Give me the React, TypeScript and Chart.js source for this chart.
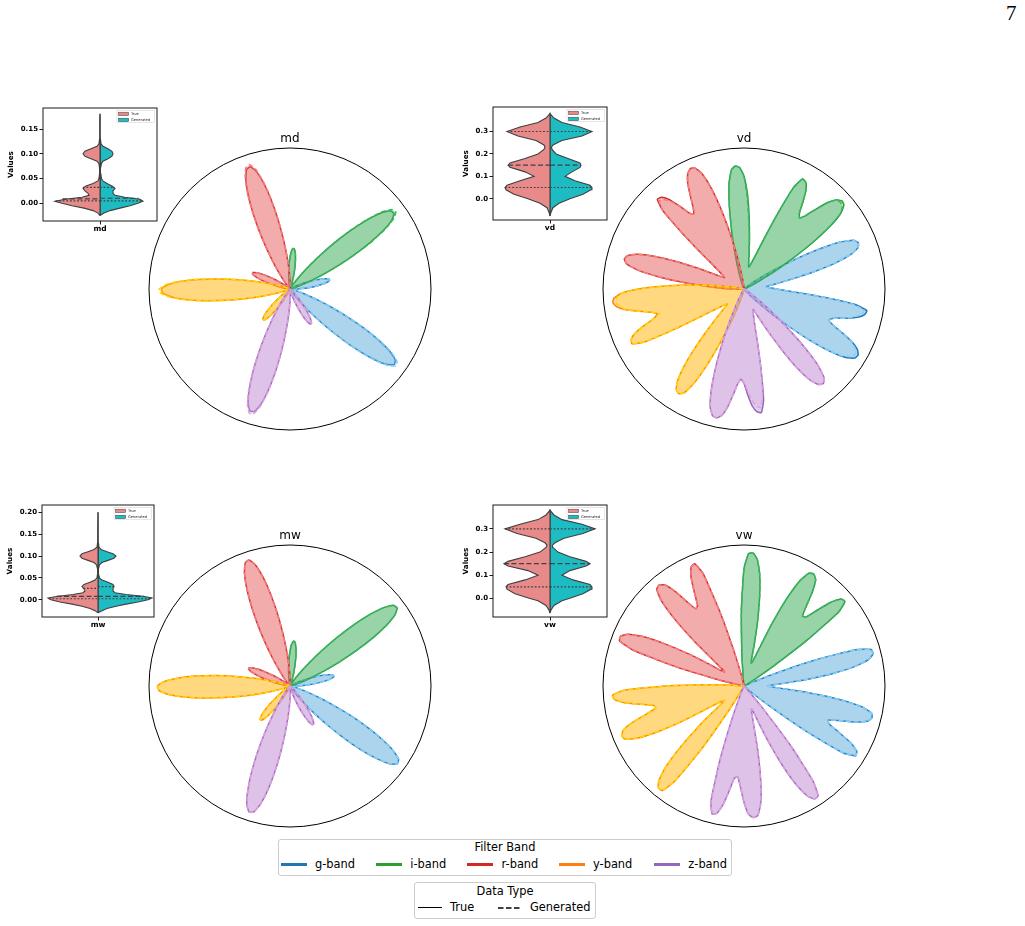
import React, { useEffect, useRef } from "react";
import { Chart, registerables } from "chart.js";

Chart.register(...registerables);

const SANS = "'DejaVu Sans', 'Noto Sans', sans-serif";
Chart.defaults.font.family = SANS;

// ---------------- Bands ----------------
const bandNames = ["g-band", "i-band", "r-band", "y-band", "z-band"];
const bandColors = ["#1f77b4", "#2ca02c", "#d62728", "#ff7f0e", "#9467bd"];
const generatedColors = ["#87cefa", "#3cb371", "#f08080", "#ffd700", "#dda0dd"];
const bandRotation = [0, 72, 144, 216, 288];

// sample angles (deg, counter-clockwise from east) of each band profile, before band rotation
const profileAngles = [-58, -56, -54, -52, -50, -48, -46, -44, -42, -40, -38, -36, -34, -32, -30, -28, -26, -24, -22, -20, -18, -16, -14, -12, -10, -8, -6, -4, -2, 0, 2, 4, 6, 8, 10, 12, 14, 16, 18, 20, 22, 24, 26, 28, 30, 32, 34, 36, 38, 40];

// ---------------- md / mw (every band shows the same petal pair) ----------------
const mdTrue = [0.017, 0.033, 0.061, 0.106, 0.173, 0.265, 0.38, 0.513, 0.651, 0.775, 0.868, 0.912, 0.901, 0.836, 0.728, 0.596, 0.459, 0.331, 0.225, 0.144, 0.086, 0.048, 0.026, 0.013, 0.006, 0.004, 0.008, 0.015, 0.029, 0.052, 0.084, 0.127, 0.176, 0.225, 0.264, 0.287, 0.287, 0.264, 0.225, 0.176, 0.127, 0.084, 0.052, 0.029, 0.015, 0.007, 0.003, 0, 0, 0];
const mdGen = [0.017, 0.034, 0.062, 0.108, 0.176, 0.27, 0.387, 0.522, 0.662, 0.788, 0.883, 0.928, 0.916, 0.85, 0.74, 0.606, 0.467, 0.337, 0.229, 0.146, 0.087, 0.049, 0.026, 0.013, 0.006, 0.004, 0.008, 0.015, 0.029, 0.052, 0.084, 0.127, 0.176, 0.225, 0.264, 0.287, 0.287, 0.264, 0.225, 0.176, 0.127, 0.084, 0.052, 0.029, 0.015, 0.007, 0.003, 0, 0, 0];
const mwTrue = [0.018, 0.034, 0.063, 0.109, 0.178, 0.273, 0.392, 0.529, 0.671, 0.799, 0.895, 0.94, 0.929, 0.862, 0.751, 0.614, 0.473, 0.341, 0.232, 0.148, 0.089, 0.049, 0.027, 0.013, 0.006, 0.004, 0.008, 0.017, 0.032, 0.057, 0.093, 0.14, 0.194, 0.248, 0.291, 0.317, 0.317, 0.291, 0.248, 0.194, 0.14, 0.093, 0.057, 0.032, 0.017, 0.008, 0.003, 0, 0, 0];
const mwGen = [0.018, 0.034, 0.063, 0.109, 0.178, 0.273, 0.392, 0.529, 0.671, 0.799, 0.895, 0.94, 0.929, 0.862, 0.751, 0.614, 0.473, 0.341, 0.232, 0.148, 0.089, 0.049, 0.027, 0.013, 0.006, 0.004, 0.008, 0.017, 0.032, 0.057, 0.093, 0.14, 0.194, 0.248, 0.291, 0.317, 0.317, 0.291, 0.248, 0.194, 0.14, 0.093, 0.057, 0.032, 0.017, 0.008, 0.003, 0, 0, 0];

// ---------------- vd (three rounded lobes, same for every band; generated differs per band) ----------------
const vdTrue = [0.001, 0.002, 0.004, 0.009, 0.018, 0.03, 0.07, 0.13, 0.25, 0.4, 0.58, 0.75, 0.87, 0.925, 0.935, 0.91, 0.85, 0.76, 0.68, 0.64, 0.67, 0.75, 0.83, 0.875, 0.885, 0.8, 0.58, 0.4, 0.29, 0.23, 0.195, 0.17, 0.16, 0.19, 0.26, 0.37, 0.52, 0.68, 0.8, 0.86, 0.875, 0.85, 0.76, 0.6, 0.42, 0.27, 0.16, 0.085, 0.04, 0.018];
const vdGenG = [0.001, 0.002, 0.004, 0.009, 0.018, 0.03, 0.07, 0.13, 0.25, 0.4, 0.58, 0.75, 0.85, 0.905, 0.915, 0.89, 0.85, 0.76, 0.68, 0.64, 0.67, 0.75, 0.81, 0.855, 0.865, 0.78, 0.58, 0.4, 0.29, 0.23, 0.195, 0.17, 0.16, 0.19, 0.26, 0.37, 0.52, 0.68, 0.8, 0.86, 0.875, 0.85, 0.76, 0.6, 0.42, 0.27, 0.16, 0.085, 0.04, 0.018];
const vdGenI = [0.001, 0.002, 0.004, 0.009, 0.018, 0.03, 0.07, 0.13, 0.25, 0.4, 0.58, 0.75, 0.87, 0.91, 0.92, 0.91, 0.85, 0.76, 0.68, 0.64, 0.67, 0.75, 0.83, 0.875, 0.885, 0.8, 0.58, 0.4, 0.29, 0.23, 0.195, 0.17, 0.16, 0.19, 0.26, 0.37, 0.49, 0.65, 0.8, 0.86, 0.875, 0.85, 0.76, 0.6, 0.42, 0.27, 0.16, 0.085, 0.04, 0.018];
const vdGenR = [0.001, 0.002, 0.004, 0.009, 0.018, 0.03, 0.07, 0.13, 0.25, 0.4, 0.58, 0.75, 0.87, 0.925, 0.935, 0.91, 0.85, 0.76, 0.68, 0.64, 0.67, 0.75, 0.81, 0.855, 0.865, 0.8, 0.58, 0.4, 0.29, 0.23, 0.195, 0.17, 0.16, 0.19, 0.26, 0.37, 0.52, 0.68, 0.8, 0.86, 0.875, 0.85, 0.76, 0.6, 0.42, 0.27, 0.16, 0.085, 0.04, 0.018];
const vdGenY = [0.001, 0.002, 0.004, 0.009, 0.018, 0.03, 0.07, 0.13, 0.25, 0.4, 0.58, 0.75, 0.87, 0.905, 0.915, 0.89, 0.85, 0.76, 0.68, 0.625, 0.67, 0.75, 0.83, 0.875, 0.885, 0.8, 0.58, 0.4, 0.29, 0.23, 0.195, 0.17, 0.16, 0.19, 0.26, 0.37, 0.52, 0.68, 0.8, 0.86, 0.875, 0.85, 0.76, 0.6, 0.42, 0.27, 0.16, 0.085, 0.04, 0.018];
const vdGenZ = [0.001, 0.002, 0.004, 0.009, 0.018, 0.03, 0.07, 0.13, 0.25, 0.4, 0.58, 0.75, 0.87, 0.925, 0.935, 0.91, 0.85, 0.76, 0.68, 0.64, 0.67, 0.72, 0.79, 0.835, 0.85, 0.76, 0.58, 0.4, 0.29, 0.23, 0.195, 0.17, 0.16, 0.19, 0.26, 0.37, 0.52, 0.68, 0.8, 0.86, 0.875, 0.85, 0.76, 0.6, 0.42, 0.27, 0.16, 0.085, 0.04, 0.018];

// ---------------- vw (three rounded lobes, generated coincides with true) ----------------
const vwTrue = [0, 0, 0, 0, 0, 0, 0, 0.005, 0.02, 0.08, 0.25, 0.55, 0.85, 0.935, 0.923, 0.855, 0.747, 0.659, 0.645, 0.716, 0.825, 0.909, 0.935, 0.925, 0.847, 0.683, 0.469, 0.28, 0.2, 0.17, 0.193, 0.293, 0.455, 0.637, 0.8, 0.903, 0.944, 0.94, 0.833, 0.538, 0.207, 0.039, 0.003, 0, 0, 0, 0, 0, 0, 0];
const vwGen = [0, 0, 0, 0, 0, 0, 0, 0.005, 0.02, 0.08, 0.25, 0.55, 0.85, 0.935, 0.923, 0.855, 0.747, 0.659, 0.645, 0.716, 0.825, 0.909, 0.935, 0.925, 0.847, 0.683, 0.469, 0.28, 0.2, 0.17, 0.193, 0.293, 0.455, 0.637, 0.8, 0.903, 0.944, 0.94, 0.833, 0.538, 0.207, 0.039, 0.003, 0, 0, 0, 0, 0, 0, 0];

// ---------------- violins (value, half-width of True / Generated) ----------------
const mdViolinY = [-0.025, -0.02, -0.015, -0.01, -0.005, 0, 0.004, 0.008, 0.012, 0.016, 0.02, 0.025, 0.03, 0.035, 0.04, 0.045, 0.05, 0.06, 0.07, 0.08, 0.085, 0.09, 0.095, 0.1, 0.105, 0.11, 0.115, 0.12, 0.13, 0.15, 0.17, 0.181];
const mdViolinTrue = [0, 0.018, 0.061, 0.14, 0.246, 0.333, 0.395, 0.307, 0.158, 0.096, 0.105, 0.132, 0.149, 0.123, 0.061, 0.018, 0.009, 0.004, 0.004, 0.009, 0.026, 0.079, 0.132, 0.149, 0.132, 0.079, 0.026, 0.009, 0.004, 0.003, 0.002, 0];
const mdViolinGen = [0, 0.035, 0.088, 0.175, 0.263, 0.333, 0.377, 0.351, 0.219, 0.132, 0.114, 0.114, 0.132, 0.105, 0.061, 0.026, 0.013, 0.007, 0.004, 0.013, 0.026, 0.07, 0.105, 0.114, 0.105, 0.07, 0.026, 0.009, 0.004, 0.003, 0.002, 0];
const mdQuartTrue = [0.0047, 0.0088, 0.032];
const mdQuartTrueW = [0.39, 0.33, 0.15];
const mdQuartGen = [0.0047, 0.0101, 0.032];
const mdQuartGenW = [0.375, 0.34, 0.13];

const vdViolinY = [-0.077, -0.06, -0.04, -0.02, 0, 0.02, 0.04, 0.05, 0.06, 0.08, 0.1, 0.12, 0.14, 0.15, 0.16, 0.18, 0.2, 0.22, 0.23, 0.24, 0.26, 0.28, 0.3, 0.32, 0.34, 0.36, 0.38];
const vdViolinTrue = [0, 0.009, 0.026, 0.088, 0.193, 0.316, 0.386, 0.395, 0.377, 0.263, 0.14, 0.219, 0.351, 0.368, 0.351, 0.219, 0.105, 0.053, 0.044, 0.053, 0.123, 0.281, 0.377, 0.263, 0.105, 0.035, 0];
const vdViolinGen = [0, 0.009, 0.026, 0.079, 0.175, 0.289, 0.36, 0.368, 0.351, 0.219, 0.132, 0.193, 0.263, 0.272, 0.263, 0.158, 0.053, 0.018, 0.013, 0.026, 0.105, 0.281, 0.368, 0.263, 0.105, 0.035, 0];
const vdQuartTrue = [0.05, 0.15, 0.3];
const vdQuartTrueW = [0.395, 0.368, 0.377];
const vdQuartGen = [0.05, 0.15, 0.3];
const vdQuartGenW = [0.368, 0.272, 0.368];

const mwViolinY = [-0.03, -0.025, -0.02, -0.015, -0.01, -0.005, 0, 0.004, 0.008, 0.012, 0.016, 0.02, 0.025, 0.03, 0.035, 0.04, 0.045, 0.05, 0.06, 0.07, 0.08, 0.085, 0.09, 0.095, 0.1, 0.105, 0.11, 0.115, 0.12, 0.13, 0.16, 0.2];
const mwViolinTrue = [0, 0.027, 0.071, 0.143, 0.232, 0.339, 0.42, 0.446, 0.357, 0.223, 0.134, 0.116, 0.125, 0.143, 0.125, 0.071, 0.027, 0.009, 0.004, 0.004, 0.013, 0.036, 0.089, 0.143, 0.161, 0.143, 0.089, 0.036, 0.009, 0.004, 0.003, 0];
const mwViolinGen = [0, 0.036, 0.08, 0.161, 0.25, 0.357, 0.446, 0.482, 0.402, 0.25, 0.152, 0.134, 0.134, 0.143, 0.134, 0.089, 0.036, 0.013, 0.004, 0.004, 0.013, 0.036, 0.089, 0.143, 0.161, 0.134, 0.08, 0.027, 0.009, 0.004, 0.003, 0];
const mwQuartTrue = [0.0023, 0.0076, 0.026];
const mwQuartTrueW = [0.44, 0.37, 0.13];
const mwQuartGen = [0.0023, 0.0076, 0.03];
const mwQuartGenW = [0.475, 0.41, 0.143];

const vwViolinY = [-0.063, -0.05, -0.03, -0.01, 0, 0.02, 0.04, 0.05, 0.06, 0.08, 0.1, 0.12, 0.14, 0.15, 0.16, 0.18, 0.2, 0.22, 0.23, 0.24, 0.26, 0.28, 0.3, 0.32, 0.34, 0.36, 0.38];
const vwViolinTrue = [0, 0.009, 0.035, 0.105, 0.175, 0.307, 0.377, 0.386, 0.368, 0.219, 0.105, 0.193, 0.368, 0.404, 0.368, 0.219, 0.088, 0.035, 0.026, 0.044, 0.123, 0.289, 0.395, 0.263, 0.105, 0.035, 0];
const vwViolinGen = [0, 0.009, 0.035, 0.105, 0.167, 0.289, 0.36, 0.368, 0.351, 0.202, 0.105, 0.175, 0.316, 0.351, 0.316, 0.175, 0.07, 0.026, 0.022, 0.044, 0.123, 0.289, 0.395, 0.281, 0.105, 0.035, 0];
const vwQuartTrue = [0.05, 0.15, 0.3];
const vwQuartTrueW = [0.386, 0.404, 0.395];
const vwQuartGen = [0.05, 0.15, 0.3];
const vwQuartGenW = [0.368, 0.351, 0.395];

const mdTicks = [0, 0.05, 0.1, 0.15];
const mdTickLabels = ["0.00", "0.05", "0.10", "0.15"];
const mwTicks = [0, 0.05, 0.1, 0.15, 0.2];
const mwTickLabels = ["0.00", "0.05", "0.10", "0.15", "0.20"];
const vTicks = [0, 0.1, 0.2, 0.3];
const vTickLabels = ["0.0", "0.1", "0.2", "0.3"];

const VIOLIN_TRUE = "#e88a8a";
const VIOLIN_GEN = "#1cbcc2";
const VIOLIN_EDGE = "#404040";

function rgba(hex: string, a: number) {
  const n = parseInt(hex.slice(1), 16);
  return `rgba(${(n >> 16) & 255}, ${(n >> 8) & 255}, ${n & 255}, ${a})`;
}

// ---------------- Polar (radar) chart ----------------
const RADAR_STEP = 2;
const RADAR_N = 360 / RADAR_STEP;

function PolarChart(props: { left: number; top: number; trueData: number[][]; genData: number[][] }) {
  const ref = useRef<HTMLCanvasElement | null>(null);
  useEffect(() => {
    const labels = Array.from({ length: RADAR_N }, (_, i) => `${(360 - i * RADAR_STEP) % 360}°`);
    const place = (vals: number[], rot: number) => {
      const full: number[] = new Array(RADAR_N).fill(0);
      vals.forEach((v, k) => {
        const theta = profileAngles[k] + rot;
        const idx = (((-theta / RADAR_STEP) % RADAR_N) + RADAR_N) % RADAR_N;
        full[idx] = v;
      });
      return full;
    };
    const datasets: any[] = [];
    bandNames.forEach((name, b) => {
      datasets.push({
        label: name + " True",
        data: place(props.trueData[b], bandRotation[b]),
        borderColor: bandColors[b],
        backgroundColor: rgba(bandColors[b], 0.3),
        borderWidth: 1.5,
        fill: "origin",
      });
      datasets.push({
        label: name + " Generated",
        data: place(props.genData[b], bandRotation[b]),
        borderColor: generatedColors[b],
        backgroundColor: rgba(generatedColors[b], 0.3),
        borderWidth: 1.5,
        borderDash: [5, 2.5],
        fill: "origin",
      });
    });
    datasets.forEach((d, i) => (d.order = datasets.length - i));
    const chart = new Chart(ref.current as HTMLCanvasElement, {
      type: "radar",
      data: { labels, datasets },
      options: {
        responsive: false,
        animation: false,
        events: [],
        layout: { padding: 9 },
        plugins: { legend: { display: false }, tooltip: { enabled: false } },
        elements: {
          point: { radius: 0, hoverRadius: 0, hitRadius: 0 },
          line: { tension: 0.15, borderJoinStyle: "round" },
        },
        scales: {
          r: {
            min: 0,
            max: 1,
            startAngle: 90,
            ticks: { display: false, stepSize: 1 },
            pointLabels: { display: false },
            angleLines: { display: false },
            grid: {
              circular: true,
              color: (c: any) => (c.index === 1 ? "#000000" : "rgba(0,0,0,0)"),
              lineWidth: 1,
            },
          },
        },
      },
    } as any);
    return () => chart.destroy();
  }, []);
  return (
    <canvas
      ref={ref}
      width={300}
      height={300}
      style={{ position: "absolute", left: props.left, top: props.top, width: 300, height: 300 }}
    />
  );
}

// ---------------- Violin inset ----------------
type ViolinSpec = {
  name: string;
  box: { left: number; top: number; w: number; h: number };
  yW: number;
  yMin: number;
  yMax: number;
  ticks: number[];
  tickLabels: string[];
  ys: number[];
  wTrue: number[];
  wGen: number[];
  qTrue: number[];
  qTrueW: number[];
  qGen: number[];
  qGenW: number[];
};

const PAD_TOP = 8;
const PAD_RIGHT = 4;
const X_AXIS_H = 20;

function ViolinChart({ spec }: { spec: ViolinSpec }) {
  const ref = useRef<HTMLCanvasElement | null>(null);
  const cw = spec.box.w + spec.yW + PAD_RIGHT;
  const ch = spec.box.h + PAD_TOP + X_AXIS_H;
  useEffect(() => {
    const n = spec.ys.length;
    const leftPoly = [
      ...spec.ys.map((y, i) => ({ x: -spec.wTrue[i], y })),
      { x: 0, y: spec.ys[n - 1] },
      { x: 0, y: spec.ys[0] },
    ];
    const rightPoly = [
      ...spec.ys.map((y, i) => ({ x: spec.wGen[i], y })),
      { x: 0, y: spec.ys[n - 1] },
      { x: 0, y: spec.ys[0] },
    ];
    const datasets: any[] = [
      { data: leftPoly, showLine: true, fill: "shape", backgroundColor: VIOLIN_TRUE, borderColor: VIOLIN_EDGE, borderWidth: 1.1, pointRadius: 0, order: 2 },
      { data: rightPoly, showLine: true, fill: "shape", backgroundColor: VIOLIN_GEN, borderColor: VIOLIN_EDGE, borderWidth: 1.1, pointRadius: 0, order: 2 },
    ];
    spec.qTrue.forEach((q, i) => {
      datasets.push({
        data: [{ x: -spec.qTrueW[i], y: q }, { x: 0, y: q }],
        showLine: true, fill: false, borderColor: VIOLIN_EDGE, borderWidth: 1.1,
        borderDash: i === 1 ? [5, 2.5] : [1.8, 1.8], pointRadius: 0, order: 1,
      });
    });
    spec.qGen.forEach((q, i) => {
      datasets.push({
        data: [{ x: 0, y: q }, { x: spec.qGenW[i], y: q }],
        showLine: true, fill: false, borderColor: VIOLIN_EDGE, borderWidth: 1.1,
        borderDash: i === 1 ? [5, 2.5] : [1.8, 1.8], pointRadius: 0, order: 1,
      });
    });
    const framePlugin = {
      id: "frameAndLegend",
      afterDraw(chart: any) {
        const { ctx, chartArea: a } = chart;
        ctx.save();
        ctx.strokeStyle = "#1a1a1a";
        ctx.lineWidth = 1;
        ctx.strokeRect(a.left, a.top, a.right - a.left, a.bottom - a.top);
        const lw = 37.3;
        const lh = 12;
        const lx = a.right - 2.7 - lw;
        const ly = a.top + 2.6;
        ctx.fillStyle = "rgba(255,255,255,0.85)";
        ctx.fillRect(lx, ly, lw, lh);
        ctx.strokeStyle = "#d5d5d5";
        ctx.lineWidth = 0.6;
        ctx.strokeRect(lx, ly, lw, lh);
        const rows = [
          { c: VIOLIN_TRUE, t: "True" },
          { c: VIOLIN_GEN, t: "Generated" },
        ];
        rows.forEach((r, i) => {
          const cy = ly + 3.3 + i * 6;
          ctx.fillStyle = r.c;
          ctx.fillRect(lx + 1.6, cy - 1.7, 10, 3.4);
          ctx.strokeStyle = VIOLIN_EDGE;
          ctx.lineWidth = 0.5;
          ctx.strokeRect(lx + 1.6, cy - 1.7, 10, 3.4);
          ctx.fillStyle = "#222";
          ctx.font = `3.6px ${SANS}`;
          ctx.textBaseline = "middle";
          ctx.textAlign = "left";
          ctx.fillText(r.t, lx + 14, cy);
        });
        ctx.restore();
      },
    };
    const gridOpts = {
      display: true,
      drawOnChartArea: false,
      drawTicks: true,
      tickLength: 3.5,
      tickColor: "#1a1a1a",
      color: "#1a1a1a",
      lineWidth: 1,
    };
    const chart = new Chart(ref.current as HTMLCanvasElement, {
      type: "scatter",
      data: { datasets },
      options: {
        responsive: false,
        animation: false,
        events: [],
        layout: { padding: { top: PAD_TOP, right: PAD_RIGHT, left: 0, bottom: 0 } },
        plugins: { legend: { display: false }, tooltip: { enabled: false } },
        elements: { line: { tension: 0 }, point: { radius: 0 } },
        scales: {
          x: {
            type: "linear",
            min: -0.5,
            max: 0.5,
            afterBuildTicks: (s: any) => {
              s.ticks = [{ value: 0 }];
            },
            ticks: {
              callback: () => spec.name,
              font: { size: 7.5, weight: "bold", family: SANS },
              color: "#000",
              padding: 0.5,
              maxRotation: 0,
              autoSkip: false,
            },
            grid: gridOpts,
            border: { display: false },
            afterFit: (s: any) => {
              s.height = X_AXIS_H;
            },
          },
          y: {
            type: "linear",
            min: spec.yMin,
            max: spec.yMax,
            afterBuildTicks: (s: any) => {
              s.ticks = spec.ticks.map((v) => ({ value: v }));
            },
            ticks: {
              callback: (_v: any, i: number) => spec.tickLabels[i],
              font: { size: 7, weight: "bold", family: SANS },
              color: "#000",
              padding: 1.5,
              autoSkip: false,
            },
            grid: gridOpts,
            border: { display: false },
            title: {
              display: true,
              text: "Values",
              font: { size: 7.2, weight: "bold", family: SANS },
              color: "#000",
              padding: { top: 4, bottom: 4 },
            },
            afterFit: (s: any) => {
              s.width = spec.yW;
            },
          },
        },
      },
      plugins: [framePlugin],
    } as any);
    return () => chart.destroy();
  }, []);
  return (
    <canvas
      ref={ref}
      width={cw}
      height={ch}
      style={{ position: "absolute", left: spec.box.left - spec.yW, top: spec.box.top - PAD_TOP, width: cw, height: ch }}
    />
  );
}

// ---------------- Layout specs ----------------
const polarPlots = [
  { title: "md", left: 140, top: 139, titleTop: 131.8, trueData: bandNames.map(() => mdTrue), genData: bandNames.map(() => mdGen) },
  { title: "vd", left: 594, top: 139, titleTop: 131.8, trueData: bandNames.map(() => vdTrue), genData: [vdGenG, vdGenI, vdGenR, vdGenY, vdGenZ] },
  { title: "mw", left: 140, top: 536, titleTop: 529.3, trueData: bandNames.map(() => mwTrue), genData: bandNames.map(() => mwGen) },
  { title: "vw", left: 594, top: 536, titleTop: 529.3, trueData: bandNames.map(() => vwTrue), genData: bandNames.map(() => vwGen) },
];

const violins: ViolinSpec[] = [
  { name: "md", box: { left: 43, top: 108, w: 114, h: 113 }, yW: 40, yMin: -0.036, yMax: 0.1925, ticks: mdTicks, tickLabels: mdTickLabels, ys: mdViolinY, wTrue: mdViolinTrue, wGen: mdViolinGen, qTrue: mdQuartTrue, qTrueW: mdQuartTrueW, qGen: mdQuartGen, qGenW: mdQuartGenW },
  { name: "vd", box: { left: 493, top: 107, w: 114, h: 113 }, yW: 35, yMin: -0.0948, yMax: 0.4095, ticks: vTicks, tickLabels: vTickLabels, ys: vdViolinY, wTrue: vdViolinTrue, wGen: vdViolinGen, qTrue: vdQuartTrue, qTrueW: vdQuartTrueW, qGen: vdQuartGen, qGenW: vdQuartGenW },
  { name: "mw", box: { left: 42, top: 505, w: 112, h: 112 }, yW: 40, yMin: -0.0395, yMax: 0.2167, ticks: mwTicks, tickLabels: mwTickLabels, ys: mwViolinY, wTrue: mwViolinTrue, wGen: mwViolinGen, qTrue: mwQuartTrue, qTrueW: mwQuartTrueW, qGen: mwQuartGen, qGenW: mwQuartGenW },
  { name: "vw", box: { left: 493, top: 505, w: 114, h: 112 }, yW: 35, yMin: -0.08, yMax: 0.403, ticks: vTicks, tickLabels: vTickLabels, ys: vwViolinY, wTrue: vwViolinTrue, wGen: vwViolinGen, qTrue: vwQuartTrue, qTrueW: vwQuartTrueW, qGen: vwQuartGen, qGenW: vwQuartGenW },
];

const bandLegendX = [280.7, 376, 467.3, 558.7, 654];
const LEG_FS = 11.4;

function Txt(props: { x: number; y: number; center?: boolean; size?: number; children: React.ReactNode }) {
  return (
    <div
      style={{
        position: "absolute",
        left: props.x,
        top: props.y,
        transform: props.center ? "translate(-50%, -50%)" : "translateY(-50%)",
        fontSize: props.size ?? LEG_FS,
        lineHeight: 1,
        whiteSpace: "nowrap",
        color: "#000",
      }}
    >
      {props.children}
    </div>
  );
}

export default function App() {
  return (
    <div style={{ position: "absolute", left: 0, top: 0, width: 1025, height: 926, background: "#fff", fontFamily: SANS, overflow: "hidden" }}>
      <div style={{ position: "absolute", left: 1006, top: 3.4, fontFamily: "'Liberation Serif', 'DejaVu Serif', serif", fontSize: 21, lineHeight: "21px" }}>7</div>

      {polarPlots.map((p) => (
        <PolarChart key={p.title} left={p.left} top={p.top} trueData={p.trueData} genData={p.genData} />
      ))}
      {polarPlots.map((p) => (
        <div
          key={"t" + p.title}
          style={{ position: "absolute", left: p.left + 150, top: p.titleTop, transform: "translateX(-50%)", fontSize: 12, lineHeight: "12px", whiteSpace: "nowrap" }}
        >
          {p.title}
        </div>
      ))}

      {violins.map((v) => (
        <ViolinChart key={v.name} spec={v} />
      ))}

      {/* Filter Band legend */}
      <div style={{ position: "absolute", left: 277.5, top: 838.5, width: 454, height: 37, border: "1px solid #cccccc", borderRadius: 3, boxSizing: "border-box", background: "rgba(255,255,255,0.8)" }} />
      <Txt x={505} y={847.7} center>Filter Band</Txt>
      {bandNames.map((name, i) => (
        <React.Fragment key={name}>
          <div style={{ position: "absolute", left: bandLegendX[i], top: 864.3 - 1.4, width: 26, height: 2.8, background: bandColors[i] }} />
          <Txt x={bandLegendX[i] + 34.3} y={864.6}>{name}</Txt>
        </React.Fragment>
      ))}

      {/* Data Type legend */}
      <div style={{ position: "absolute", left: 413.5, top: 882, width: 182, height: 37, border: "1px solid #cccccc", borderRadius: 3, boxSizing: "border-box", background: "rgba(255,255,255,0.8)" }} />
      <Txt x={505} y={891.7} center>Data Type</Txt>
      <div style={{ position: "absolute", left: 418.3, top: 907.7 - 0.75, width: 23.4, height: 1.5, background: "#000" }} />
      <Txt x={450} y={908}>True</Txt>
      <svg style={{ position: "absolute", left: 498.3, top: 905.7 }} width={23} height={4}>
        <line x1={0} y1={2} x2={23} y2={2} stroke="#000" strokeWidth={1.5} strokeDasharray="5.5 2.5" />
      </svg>
      <Txt x={530} y={908}>Generated</Txt>
    </div>
  );
}
